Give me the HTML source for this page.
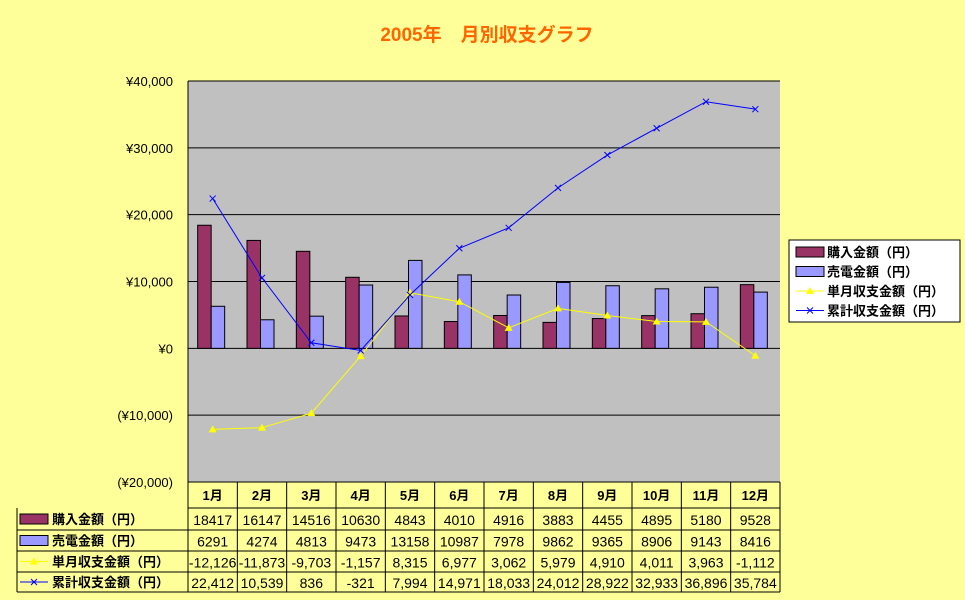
<!DOCTYPE html>
<html><head><meta charset="utf-8"><style>
body{margin:0;background:#FFFF99;}
svg{display:block;font-family:"Liberation Sans","Noto Sans CJK JP",sans-serif;}
</style></head><body>
<svg id="c" width="965" height="600" viewBox="0 0 965 600">
<rect width="965" height="600" fill="#FFFF99"/>
<text x="487" y="41" text-anchor="middle" font-size="19" fill="#FF6600" font-weight="bold">2005年　月別収支グラフ</text>
<g id="g"></g>
</svg>
<script>
const months=["1月","2月","3月","4月","5月","6月","7月","8月","9月","10月","11月","12月"];
const purchase=[18417,16147,14516,10630,4843,4010,4916,3883,4455,4895,5180,9528];
const sold=[6291,4274,4813,9473,13158,10987,7978,9862,9365,8906,9143,8416];
const monthly=[-12126,-11873,-9703,-1157,8315,6977,3062,5979,4910,4011,3963,-1112];
const cumulative=[22412,10539,836,-321,7994,14971,18033,24012,28922,32933,36896,35784];
const yTicks=[40000,30000,20000,10000,0,-10000,-20000];
const yLabels=["¥40,000","¥30,000","¥20,000","¥10,000","¥0","(¥10,000)","(¥20,000)"];
const seriesNames=["購入金額（円）","売電金額（円）","単月収支金額（円）","累計収支金額（円）"];
const fmt=v=>(v<0?"-":"")+Math.abs(v).toLocaleString("en-US");
const tableVals=[purchase.map(String),sold.map(String),monthly.map(fmt),cumulative.map(fmt)];

const NS="http://www.w3.org/2000/svg";
const g=document.getElementById("g");
function el(t,a,p){const e=document.createElementNS(NS,t);for(const k in a)e.setAttribute(k,a[k]);(p||g).appendChild(e);return e;}
const L=188,R=780,T=81,B=482,ymin=-20000,ymax=40000;
const cw=(R-L)/months.length;
const y=v=>T+(ymax-v)/(ymax-ymin)*(B-T);
const xc=i=>L+cw*(i+0.5);

let e=el("rect",{x:L,y:T,width:R-L,height:B-T,fill:"#C0C0C0"});

yTicks.forEach((v,i)=>{
  let ln=el("line",{x1:L,x2:R,y1:y(v),y2:y(v),stroke:"#000","stroke-width":1});
  
  let t=el("text",{x:L-15,y:y(v)+5,"text-anchor":"end","font-size":13});
  t.textContent=yLabels[i];
  
});
el("line",{x1:L,x2:L,y1:T,y2:B,stroke:"#000"});
const bw=13.5;
months.forEach((m,i)=>{
  let r1=el("rect",{x:xc(i)-1.5-bw,y:y(purchase[i]),width:bw,height:y(0)-y(purchase[i]),fill:"#993366",stroke:"#000"});
  
  let r2=el("rect",{x:xc(i)-1.5,y:y(sold[i]),width:bw,height:y(0)-y(sold[i]),fill:"#9999FF",stroke:"#000"});
  
});
function line(vals,color,name){
  let p=el("polyline",{points:vals.map((v,i)=>xc(i)+","+y(v)).join(" "),fill:"none",stroke:color,"stroke-width":1});
  
}
line(monthly,"#FFFF00","line-monthly");
line(cumulative,"#0000FF","line-cumulative");
monthly.forEach((v,i)=>{
  let m=el("polygon",{points:`${xc(i)},${y(v)-4} ${xc(i)-4},${y(v)+3} ${xc(i)+4},${y(v)+3}`,fill:"#FFFF00"});
  
});
cumulative.forEach((v,i)=>{
  let m=el("path",{d:`M${xc(i)-3},${y(v)-3}L${xc(i)+3},${y(v)+3}M${xc(i)+3},${y(v)-3}L${xc(i)-3},${y(v)+3}`,stroke:"#0000FF","stroke-width":1});
  
});
// data table
const rowY=[482,508,530,551,572,592];
const TL=17;
el("line",{x1:L,x2:R,y1:rowY[0],y2:rowY[0],stroke:"#000"});
for(let r=1;r<rowY.length;r++) el("line",{x1:r==1?L:TL,x2:R,y1:rowY[r],y2:rowY[r],stroke:"#000"});
el("line",{x1:TL,x2:TL,y1:rowY[1],y2:rowY[5],stroke:"#000"});
for(let i=0;i<=months.length;i++) el("line",{x1:L+cw*i,x2:L+cw*i,y1:rowY[0],y2:rowY[5],stroke:"#000"});
months.forEach((m,i)=>{
  let t=el("text",{x:xc(i),y:rowY[0]+18,"text-anchor":"middle","font-size":13,"font-weight":"bold"});
  t.textContent=m;
});
function key(k,x,yy,p){
  if(k<2){el("rect",{x:x,y:yy-5,width:28,height:10,fill:k==0?"#993366":"#9999FF",stroke:"#000"},p);}
  else{const c=k==2?"#FFFF00":"#0000FF";el("line",{x1:x,x2:x+28,y1:yy,y2:yy,stroke:c},p);
    if(k==2)el("polygon",{points:`${x+14},${yy-4} ${x+10},${yy+3} ${x+18},${yy+3}`,fill:c},p);
    else el("path",{d:`M${x+11},${yy-3}L${x+17},${yy+3}M${x+17},${yy-3}L${x+11},${yy+3}`,stroke:c},p);}
}
seriesNames.forEach((n,k)=>{
  const cy=(rowY[k+1]+rowY[k+2])/2;
  key(k,TL+3,cy);
  let t=el("text",{x:TL+35,y:cy+5,"font-size":13,"font-weight":"bold"});
  t.textContent=n;
  tableVals[k].forEach((v,i)=>{
    let c=el("text",{x:xc(i),y:cy+6,"text-anchor":"middle","font-size":14});
    c.textContent=v;
  });
});
// legend
const lg=el("g",{});

el("rect",{x:789,y:240,width:171,height:82,fill:"#FFFFFF",stroke:"#000"},lg);
seriesNames.forEach((n,k)=>{
  const cy=252+k*19.5;
  key(k,796,cy,lg);
  let t=el("text",{x:827,y:cy+5,"font-size":13,"font-weight":"bold"},lg);
  t.textContent=n;
});
</script>
</body></html>
